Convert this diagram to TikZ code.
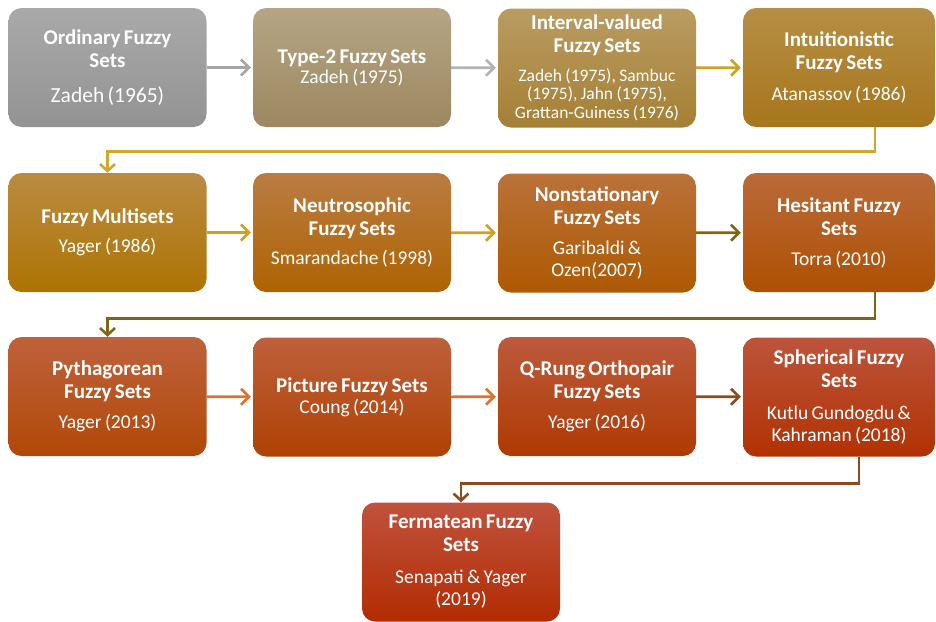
\documentclass[tikz,border=0pt]{standalone}
\usepackage{fontspec}
\setmainfont{Carlito}
\usetikzlibrary{arrows.meta}
\definecolor{gA}{HTML}{A6A6A6}
\definecolor{goldA}{HTML}{CCA124}
\definecolor{goldB}{HTML}{D2A72A}
\definecolor{olv}{HTML}{806614}
\definecolor{orA}{HTML}{E0712C}
\definecolor{brn}{HTML}{8C4A1E}
\definecolor{t1}{HTML}{A9A9A9}\definecolor{u1}{HTML}{939393}
\definecolor{t2}{HTML}{B5A585}\definecolor{u2}{HTML}{9C8860}
\definecolor{t3}{HTML}{BA9C62}\definecolor{u3}{HTML}{A57F34}
\definecolor{t4}{HTML}{B68E44}\definecolor{u4}{HTML}{A7761C}
\definecolor{t5}{HTML}{BA8C42}\definecolor{u5}{HTML}{AD7302}
\definecolor{t6}{HTML}{BA7C42}\definecolor{u6}{HTML}{AE6302}
\definecolor{t7}{HTML}{BA723A}\definecolor{u7}{HTML}{AE5902}
\definecolor{t8}{HTML}{BA6A3A}\definecolor{u8}{HTML}{AE5002}
\definecolor{t9}{HTML}{BE623C}\definecolor{u9}{HTML}{B14808}
\definecolor{t10}{HTML}{BE603C}\definecolor{u10}{HTML}{AF4204}
\definecolor{t11}{HTML}{BC5A3C}\definecolor{u11}{HTML}{AF3A02}
\definecolor{t12}{HTML}{BC543C}\definecolor{u12}{HTML}{B13202}
\definecolor{t13}{HTML}{C0523E}\definecolor{u13}{HTML}{B22C02}
\tikzset{
  fbox/.style={rounded corners=13pt, minimum width=198pt, minimum height=119pt,
    text width=188pt, align=center, text=white, inner sep=0pt},
  grad/.style={top color=t#1, bottom color=u#1},
  arr/.style={line width=2.6pt, -{Straight Barb[length=8pt,width=16pt,line width=2.6pt]}, shorten >=2pt},
  conn/.style={line width=2.6pt, -{Straight Barb[length=7pt,width=15pt,line width=2.6pt]}},
}
% title, gap, size, skip, subtitle
\newcommand{\bx}[5]{{\fontsize{21}{23}\selectfont\bfseries #1\par}\vspace{#2}{\fontsize{#3}{#4}\selectfont #5\par}}
\begin{document}
\begin{tikzpicture}[x=1pt,y=-1pt]
\useasboundingbox (0,0) rectangle (936,621);
% row 1
\node[fbox, grad=1] (b1) at (107.5,67.5)
  {\bx{Ordinary Fuzzy\\Sets}{12pt}{21.5}{23}{Zadeh (1965)}};
\node[fbox, grad=2] (b2) at (352,67.5)
  {\bx{Type-2 Fuzzy Sets}{-1pt}{19.5}{21}{Zadeh (1975)}};
\node[fbox, grad=3] (b3) at (597,68)
  {\bx{Interval-valued\\Fuzzy Sets}{10pt}{17.5}{18.5}{Zadeh (1975), Sambuc\\(1975), Jahn (1975),\\Grattan-Guiness (1976)}};
\node[fbox, minimum width=192pt, grad=4] (b4) at (839,67.5)
  {\bx{Intuitionistic\\Fuzzy Sets}{10pt}{19.5}{21}{Atanassov (1986)}};
% row 2
\node[fbox, grad=5] (b5) at (107.5,232.5)
  {\bx{Fuzzy Multisets}{8pt}{19.5}{21}{Yager (1986)}};
\node[fbox, grad=6] (b6) at (352,232.5)
  {\bx{Neutrosophic\\Fuzzy Sets}{8.5pt}{19.5}{21}{Smarandache (1998)}};
\node[fbox, grad=7] (b7) at (597,233)
  {\bx{Nonstationary\\Fuzzy Sets}{7.5pt}{19.5}{22.5}{Garibaldi \&\\Ozen(2007)}};
\node[fbox, minimum width=192pt, grad=8] (b8) at (839,232.5)
  {\bx{Hesitant Fuzzy\\Sets}{9pt}{19.5}{21}{Torra (2010)}};
% row 3
\node[fbox, grad=9] (b9) at (107.5,396.5)
  {\bx{Pythagorean\\Fuzzy Sets}{9pt}{19.5}{21}{Yager (2013)}};
\node[fbox, grad=10] (b10) at (352,397)
  {\bx{Picture Fuzzy Sets}{0pt}{19.5}{21}{Coung (2014)}};
\node[fbox, grad=11] (b11) at (597,396.5)
  {\bx{Q-Rung Orthopair\\Fuzzy Sets}{9pt}{19.5}{21}{Yager (2016)}};
\node[fbox, minimum width=192pt, grad=12] (b12) at (839,397)
  {\bx{Spherical Fuzzy\\Sets}{9pt}{19.5}{22.5}{Kutlu Gundogdu \&\\Kahraman (2018)}};
% row 4
\node[fbox, grad=13] (b13) at (461,562)
  {\bx{Fermatean Fuzzy\\Sets}{9pt}{19.5}{22.5}{Senapati \& Yager\\(2019)}};
% arrows
\draw[arr, gA] (b1) -- (b2);
\draw[arr, gA!85] (b2) -- (b3);
\draw[arr, goldA] (b3) -- (b4);
\draw[conn, goldB] ([xshift=36pt]b4.south) -- ++(0,24) -| (b5.north);
\draw[arr, goldA] (b5) -- (b6);
\draw[arr, goldA] (b6) -- (b7);
\draw[arr, olv] (b7) -- (b8);
\draw[conn, olv] ([xshift=36pt]b8.south) -- ++(0,26) -| (b9.north);
\draw[arr, orA] (b9) -- (b10);
\draw[arr, orA] (b10) -- (b11);
\draw[arr, brn] (b11) -- (b12);
\draw[conn, brn] ([xshift=20pt]b12.south) -- ++(0,27) -| (b13.north);
\end{tikzpicture}
\end{document}
